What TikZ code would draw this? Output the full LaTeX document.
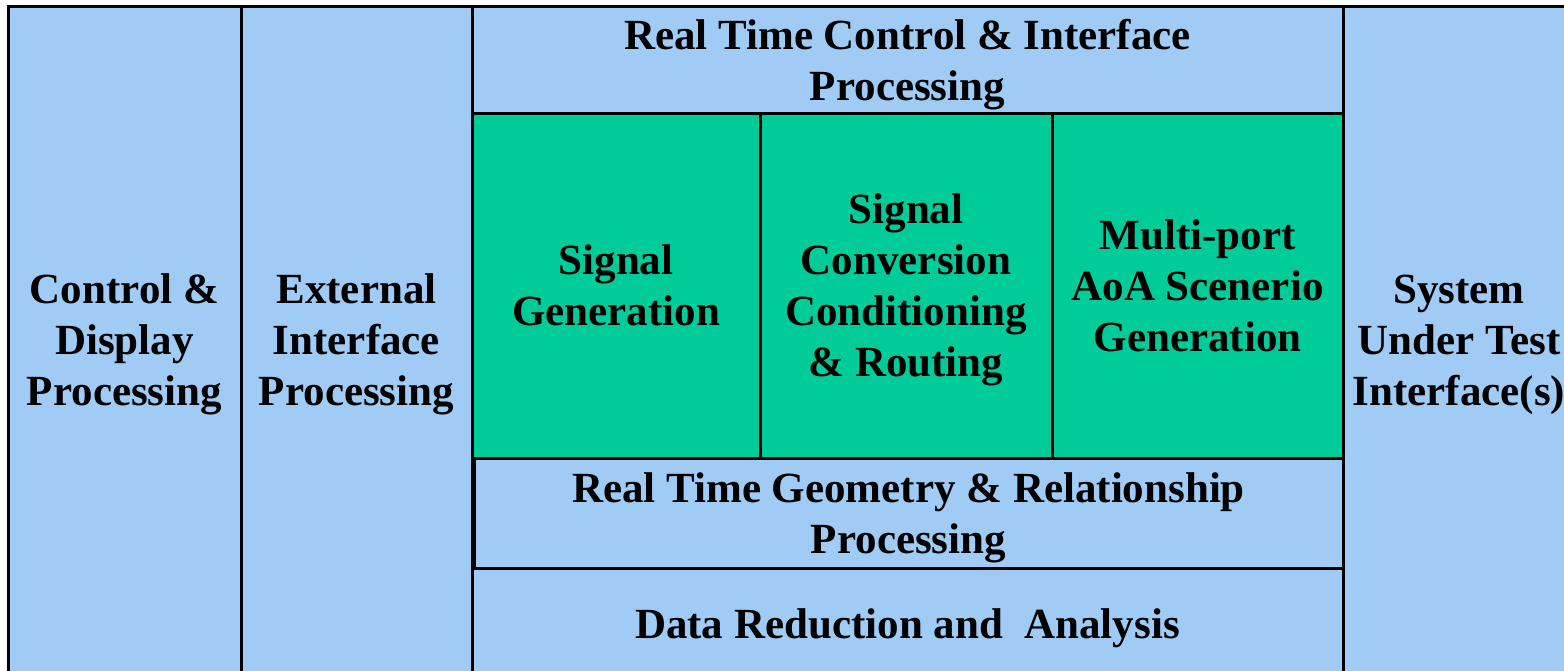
\documentclass[tikz,border=0pt]{standalone}
\usepackage{fontspec}
\setmainfont{Liberation Serif}
\definecolor{paneblue}{RGB}{160,203,245}
\definecolor{panegreen}{RGB}{0,204,153}

\begin{document}
\begin{tikzpicture}[x=1pt, y=-1pt,
		pane/.style={draw=black, line width=3pt, fill=paneblue, inner sep=0pt, outer sep=0pt,
			anchor=north west, align=center, text depth=0pt, font=\bfseries\fontsize{43}{51}\selectfont},
		core/.style={pane, fill=panegreen},
		caption/.style={align=center, inner sep=0pt, text depth=0pt, font=\bfseries\fontsize{43}{51}\selectfont}]
		\useasboundingbox (0,0) rectangle (1564,670);
		
		% outer columns
		\node[pane, minimum width=233, minimum height=668] (ctrl) at (8,6) {Control \&\\Display\\Processing};
		\node[pane, minimum width=231, minimum height=668] (ext) at (241,6) {External\\Interface\\Processing};
		\node[pane, minimum width=280, minimum height=668] (sut) at (1343,6) {};
		\node[caption] (sutText) at ([xshift=116]sut.west |- ctrl.center) {System\\Under Test\\Interface(s)};
		
		% middle stack
		\node[pane, minimum width=871, minimum height=107] (rtc) at (472,6) {Real Time Control \& Interface\\Processing};
		\node[core, minimum width=288, minimum height=345] (gen) at (472,113) {Signal\\Generation};
		\node[core, minimum width=292, minimum height=345] (conv) at (760,113) {Signal\\Conversion\\Conditioning\\\& Routing};
		\node[core, minimum width=291, minimum height=345] (aoa) at (1052,113) {Multi-port\\AoA Scenerio\\Generation};
		\node[pane, minimum width=869, minimum height=110] (geo) at (474,458) {Real Time Geometry \& Relationship\\Processing};
		\node[pane, minimum width=871, minimum height=112] (data) at (472,568) {Data Reduction and\ \ Analysis};
		\end{tikzpicture}
\end{document}
